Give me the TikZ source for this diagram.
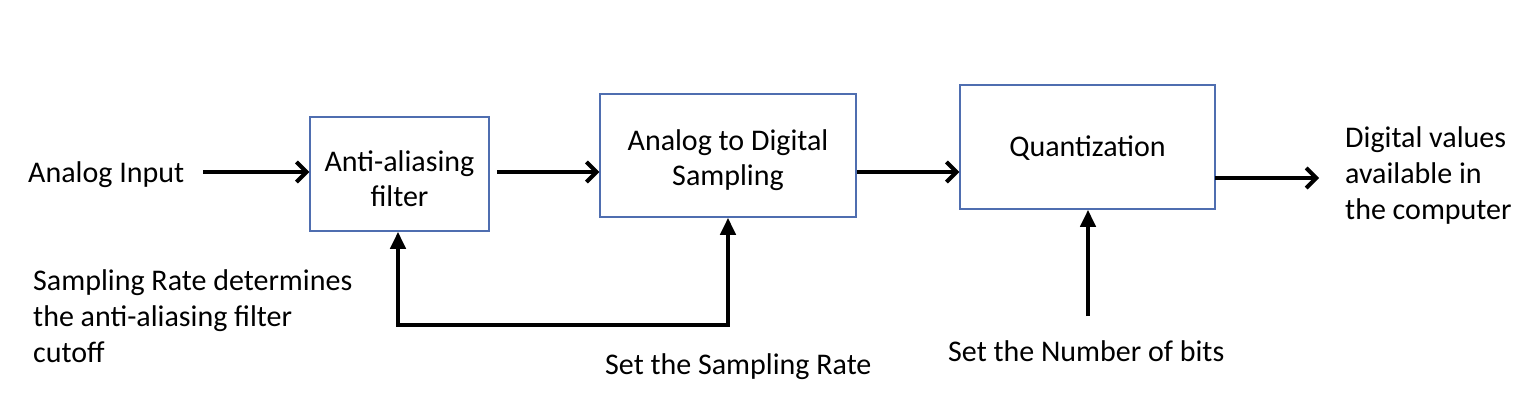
\documentclass[tikz,border=0pt]{standalone}
\usepackage{fontspec}
\setmainfont{Carlito}
\usetikzlibrary{arrows.meta}
\definecolor{boxblue}{RGB}{79,110,176}
\begin{document}
\begin{tikzpicture}[x=1pt,y=-1pt,
  txt/.style={font=\fontsize{30}{36}\selectfont, inner sep=0pt, align=left},
  blk/.style={draw=boxblue, line width=1.5pt, inner sep=0pt},
  blktxt/.style={font=\fontsize{30}{35}\selectfont, align=center, inner sep=0pt},
  flow/.style={line width=4pt, -{Straight Barb[length=10pt,width=20pt,line width=4pt]}},
  ctrl/.style={line width=4pt, line join=miter}
]
\useasboundingbox (0,0) rectangle (1538,401);

% blocks
\node[blk, minimum width=179pt, minimum height=114pt] (b1) at (399.5,174) {};
\node[blk, minimum width=256pt, minimum height=123pt] (b2) at (728,155.5) {};
\node[blk, minimum width=255pt, minimum height=124pt] (b3) at (1087.5,147) {};
\node[blktxt] (t1) at ([yshift=-5pt]b1.center) {Anti-aliasing\\filter};
\node[blktxt] (t2) at ([yshift=-5pt]b2.center) {Analog to Digital\\Sampling};
\node[blktxt] (t3) at ([yshift=-1pt]b3.center) {Quantization};

% texts
\node[txt, anchor=west] (ain) at (28,175) {Analog Input};
\node[txt, anchor=north west] (dout) at (1345,126) {Digital values\\available in\\the computer};
\node[txt, anchor=north west] (srd) at (33,269) {Sampling Rate determines\\the anti-aliasing filter\\cutoff};
\node[txt, anchor=west] (ssr) at (605,367) {Set the Sampling Rate};
\node[txt, anchor=west] (snb) at (948,351) {Set the Number of bits};

% coordinates
\coordinate (a1s) at (203,172);
\coordinate (y172) at (0,172);
\coordinate (a4) at (1215,178);
\coordinate (a4e) at (1319,178);
\coordinate (fb) at (0,325);
\coordinate (qs) at (1088,316);

% forward arrows
\draw[flow] (a1s) -- (b1.west |- y172);
\draw[flow] (b1.east |- y172) ++(7,0) -- (b2.west |- y172);
\draw[flow] (b2.east |- y172) -- (b3.west |- y172);
\draw[flow] (a4) -- (a4e);

% control arrows
\draw[ctrl, {Triangle[length=17pt,width=15pt]}-{Triangle[length=17pt,width=15pt]}]
  (b2.south) -- (b2.south |- fb) -- ([xshift=-1.5pt]b1.south |- fb) -- ([xshift=-1.5pt]b1.south);
\draw[ctrl, -{Triangle[length=17pt,width=15pt]}] (qs) -- (b3.south -| qs);
\end{tikzpicture}
\end{document}
